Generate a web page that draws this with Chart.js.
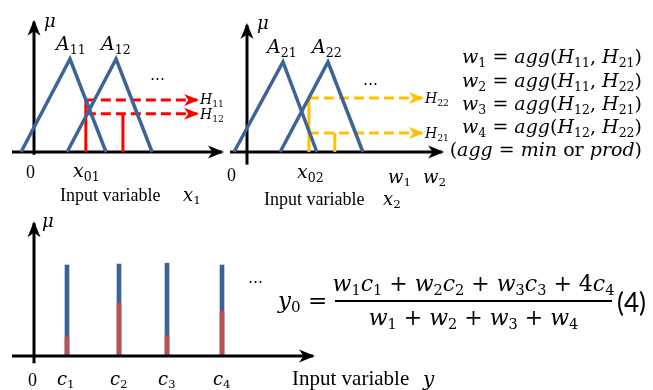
<!DOCTYPE html>
<html>
<head>
<script src="https://cdn.jsdelivr.net/npm/chart.js@4"></script>
<style>
body { margin: 0; background: #fff; }
#page { position: relative; width: 653px; height: 390px; overflow: hidden; font-family: "DejaVu Serif", serif; color: #000; }
canvas { position: absolute; }
.t { position: absolute; white-space: nowrap; line-height: 1; }
.i { font-style: italic; }
.u { font-family: "Liberation Serif", serif; }
sub { font-size: 0.66em; vertical-align: -0.28em; line-height: 0; font-style: normal; }
</style>
</head>
<body>
<div id="page">
	<canvas id="c1"></canvas>
	<canvas id="c2"></canvas>
	<canvas id="c3"></canvas>
</div>
<script>
// membership functions of input x1 (x in arbitrary units, y = membership)
let a11 = [[-0.36, 0], [1, 1], [2, 0]];
let a12 = [[0.92, 0], [2.28, 1], [3.28, 0]];
let x01 = 1.44, x01b = 2.47;
let h11 = 0.56, h12 = 0.41;

// membership functions of input x2
let a21 = [[-0.36, 0], [1, 1], [1.94, 0]];
let a22 = [[0.92, 0], [2.25, 1], [3.22, 0]];
let x02 = 1.72, x02b = 2.44;
let h22 = 0.6, h21 = 0.21;

// singleton outputs c1..c4 and firing strengths
let cPos = [0.66, 1.7, 2.66, 3.76];
let cTop = [1, 1.01, 1.02, 1];
let wFire = [0.21, 0.58, 0.22, 0.49];
let cLabels = ['c<sub>1</sub>', 'c<sub>2</sub>', 'c<sub>3</sub>', 'c<sub>4</sub>'];

const BLUE = '#3e6497';
const RED = '#ff0000';
const GOLD = '#ffc000';
const STEM_BLUE = '#3b6399';
const STEM_RED = '#c0504d';

// draws an arrowhead at the last point of any dataset that has an "arrow" setting
const arrowPlugin = {
	id: 'arrows',
	afterDatasetsDraw(chart) {
		let ctx = chart.ctx;
		chart.data.datasets.forEach((ds, i) => {
			if (!ds.arrow) return;
			let pts = chart.getDatasetMeta(i).data;
			let a = pts[pts.length - 2], b = pts[pts.length - 1];
			let ang = Math.atan2(b.y - a.y, b.x - a.x);
			let len = ds.arrow.len, half = ds.arrow.half;
			ctx.save();
			ctx.translate(b.x, b.y);
			ctx.rotate(ang);
			ctx.fillStyle = ds.borderColor;
			ctx.beginPath();
			ctx.moveTo(2, 0);
			ctx.lineTo(2 - len, -half);
			ctx.lineTo(2 - len * 0.72, 0);
			ctx.lineTo(2 - len, half);
			ctx.closePath();
			ctx.fill();
			ctx.restore();
		});
	}
};

function line(pts, color, width, extra) {
	return Object.assign({
		type: 'line',
		data: pts.map(p => ({x: p[0], y: p[1]})),
		borderColor: color,
		borderWidth: width,
		pointRadius: 0,
		fill: false,
		tension: 0,
		borderJoinStyle: 'miter',
		borderCapStyle: 'butt'
	}, extra || {});
}

// box = canvas rect on the page, origin = page pixel of (0,0), unit = pixels per unit
function makeChart(id, box, origin, unit, datasets) {
	let cv = document.getElementById(id);
	cv.width = box[2]; cv.height = box[3];
	cv.style.left = box[0] + 'px'; cv.style.top = box[1] + 'px';
	cv.style.width = box[2] + 'px'; cv.style.height = box[3] + 'px';
	let ox = origin[0] - box[0], oy = origin[1] - box[1];
	return new Chart(cv, {
		type: 'line',
		data: {datasets: datasets},
		options: {
			responsive: false,
			animation: false,
			events: [],
			layout: {padding: 0},
			plugins: {legend: {display: false}, tooltip: {enabled: false}},
			scales: {
				x: {type: 'linear', display: false, offset: false, min: -ox / unit[0], max: (box[2] - ox) / unit[0]},
				y: {type: 'linear', display: false, min: -(box[3] - oy) / unit[1], max: oy / unit[1]}
			}
		},
		plugins: [arrowPlugin]
	});
}

let axisArrow = {len: 16, half: 6.5};
let dashArrow = {len: 15, half: 6};
let dash = [10, 5];

makeChart('c1', [0, 0, 230, 200], [34, 152], [36, 93], [
	line(a11, BLUE, 3.5),
	line(a12, BLUE, 3.5),
	line([[x01, 0], [x01, h11]], RED, 3),
	line([[x01b, 0], [x01b, h12]], RED, 3),
	line([[x01, h11], [4.53, h11]], RED, 3, {borderDash: dash, arrow: dashArrow}),
	line([[x01, h12], [4.53, h12]], RED, 3, {borderDash: dash, arrow: dashArrow}),
	line([[-0.61, 0], [5.22, 0]], '#000', 3, {arrow: axisArrow}),
	line([[0, -0.03], [0, 1.4]], '#000', 3, {arrow: axisArrow})
]);

makeChart('c2', [220, 0, 233, 200], [247, 152], [36, 90], [
	line(a21, BLUE, 3.5),
	line(a22, BLUE, 3.5),
	line([[x02, 0], [x02, h22]], GOLD, 3),
	line([[x02b, 0], [x02b, h21]], GOLD, 3),
	line([[x02, h22], [4.86, h22]], GOLD, 3, {borderDash: dash, arrow: dashArrow}),
	line([[x02, h21], [4.86, h21]], GOLD, 3, {borderDash: dash, arrow: dashArrow}),
	line([[-0.47, 0], [5.42, 0]], '#000', 3, {arrow: axisArrow}),
	line([[0, -0.14], [0, 1.41]], '#000', 3, {arrow: axisArrow})
]);

makeChart('c3', [0, 205, 330, 185], [34, 356], [50, 91], [
	line([[-0.44, 0], [5.58, 0]], '#000', 3, {arrow: axisArrow, order: -1}),
	line([[0, -0.08], [0, 1.46]], '#000', 3, {arrow: axisArrow, order: -1}),
	{type: 'bar', data: cPos.map((x, i) => ({x: x, y: wFire[i]})), backgroundColor: STEM_RED, barThickness: 4, grouped: false, order: 0},
	{type: 'bar', data: cPos.map((x, i) => ({x: x, y: cTop[i]})), backgroundColor: STEM_BLUE, barThickness: 4, grouped: false, order: 1}
]);

// text labels: x = left edge, b = baseline
let page = document.getElementById('page');
function txt(html, x, b, size, cls, style) {
	let d = document.createElement('div');
	d.className = 't ' + (cls || '');
	d.innerHTML = html;
	d.style.fontSize = size + 'px';
	d.style.left = x + 'px';
	d.style.top = (b - 0.85 * size) + 'px';
	if (style) Object.assign(d.style, style);
	page.appendChild(d);
	return d;
}

// top-left
txt('μ', 44, 27, 18, 'i');
txt('A<sub>11</sub>', 56, 50, 19, 'i');
txt('A<sub>12</sub>', 101, 50, 19, 'i');
txt('⋯', 150, 84, 15);
txt('H<sub>11</sub>', 200, 104, 14, 'i');
txt('H<sub>12</sub>', 200, 119, 14, 'i');
txt('0', 26, 178, 18, 'u');
txt('x<sub>01</sub>', 73, 177, 19, 'i');
txt('Input variable', 60, 201, 18, 'u');
txt('x<sub>1</sub>', 183, 201, 18, 'i');

// top-middle
txt('μ', 257, 29, 18, 'i');
txt('A<sub>21</sub>', 267, 53, 19, 'i');
txt('A<sub>22</sub>', 312, 53, 19, 'i');
txt('⋯', 363, 89, 15);
txt('H<sub>22</sub>', 425, 103, 14, 'i');
txt('H<sub>21</sub>', 425, 138, 14, 'i');
txt('0', 227, 181, 18, 'u');
txt('x<sub>02</sub>', 297, 178, 19, 'i');
txt('w<sub>1</sub>', 388, 183, 18, 'i');
txt('w<sub>2</sub>', 423, 183, 18, 'i');
txt('Input variable', 264, 205, 18, 'u');
txt('x<sub>2</sub>', 383, 205, 18, 'i');

// right formulas
let rules = [
	'<i>w</i><sub>1</sub> = <i>agg</i>(<i>H</i><sub>11</sub>, <i>H</i><sub>21</sub>)',
	'<i>w</i><sub>2</sub> = <i>agg</i>(<i>H</i><sub>11</sub>, <i>H</i><sub>22</sub>)',
	'<i>w</i><sub>3</sub> = <i>agg</i>(<i>H</i><sub>12</sub>, <i>H</i><sub>21</sub>)',
	'<i>w</i><sub>4</sub> = <i>agg</i>(<i>H</i><sub>12</sub>, <i>H</i><sub>22</sub>)',
	'(<i>agg</i> = <i>min</i> or <i>prod</i>)'
];
let ruleBase = [63, 87, 110, 133, 156];
rules.forEach((r, i) => txt(r, 442, ruleBase[i], 19, '', {width: '200px', textAlign: 'right'}));

// bottom
txt('μ', 42, 227, 18, 'i');
txt('⋯', 248, 287, 15);
txt('0', 28, 386, 18, 'u');
let cLeft = [57, 110, 158, 213];
cLabels.forEach((c, i) => txt(c, cLeft[i], 385, 18, 'i'));
txt('Input variable', 292, 386, 21, 'u');
txt('y', 423, 386, 20, 'i');

// output formula
txt('<i>y</i><sub>0</sub> =', 278, 309, 23);
txt('<i>w</i><sub>1</sub><i>c</i><sub>1</sub> + <i>w</i><sub>2</sub><i>c</i><sub>2</sub> + <i>w</i><sub>3</sub><i>c</i><sub>3</sub> + 4<i>c</i><sub>4</sub>', 325, 292, 22, '', {width: '297px', textAlign: 'center'});
let bar = document.createElement('div');
bar.style.cssText = 'position:absolute;left:335px;top:300px;width:277px;height:2px;background:#000;';
page.appendChild(bar);
txt('<i>w</i><sub>1</sub> + <i>w</i><sub>2</sub> + <i>w</i><sub>3</sub> + <i>w</i><sub>4</sub>', 325, 326, 22, '', {width: '297px', textAlign: 'center'});
txt('(4)', 617, 311, 26, '', {fontFamily: 'Lato, sans-serif'});
</script>
</body>
</html>
